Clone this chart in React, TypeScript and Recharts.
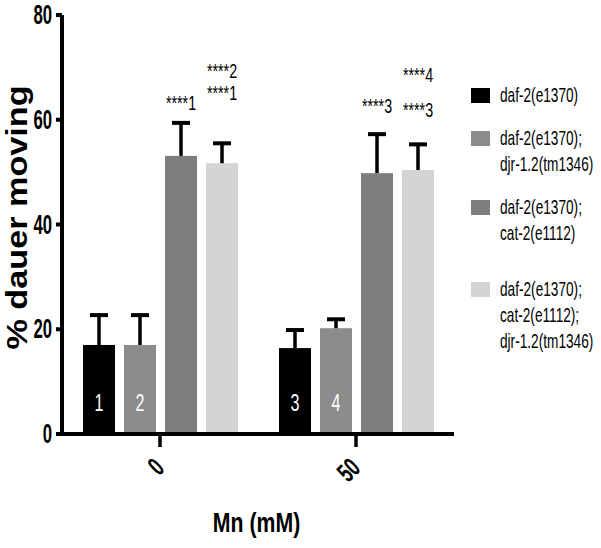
import React from "react";
import { BarChart, Bar, XAxis, YAxis, Legend } from "recharts";

// ---------- data ----------
const categories = ["0", "50"];
const seriesNames = [
  "daf-2(e1370)",
  "daf-2(e1370);\ndjr-1.2(tm1346)",
  "daf-2(e1370);\ncat-2(e1112)",
  "daf-2(e1370);\ncat-2(e1112);\ndjr-1.2(tm1346)",
];
const series0 = [17.0, 16.4];
const series1 = [17.0, 20.2];
const series2 = [53.1, 49.8];
const series3 = [51.7, 50.4];
const error0 = [5.7, 3.45];
const error1 = [5.7, 1.7];
const error2 = [6.3, 7.45];
const error3 = [3.8, 4.9];
const yTicks = [0, 20, 40, 60, 80];
const barNumbers = [["1", "3"], ["2", "4"], [], []];
// significance annotations: category index, series index, text, level (% units)
const annCategory = [0, 0, 0, 1, 1, 1];
const annSeries = [2, 3, 3, 2, 3, 3];
const annText = ["****1", "****2", "****1", "****3", "****4", "****3"];
const annLevel = [61.9, 68.0, 63.8, 61.3, 67.2, 60.5];

// ---------- styles ----------
const colors = ["#000000", "#8c8c8c", "#7d7d7d", "#d4d4d4"];
const legendGaps = [17, 17, 30, 0];
const FONT = "'Liberation Sans', Arial, Helvetica, sans-serif";

const allValues = [series0, series1, series2, series3];
const allErrors = [error0, error1, error2, error3];
const data = categories.map((c, i) => {
  const row: any = { dose: c };
  allValues.forEach((s, k) => {
    row[`v${k}`] = s[i];
    row[`err${k}`] = allErrors[k][i];
  });
  return row;
});

function makeShape(s: number) {
  return (props: any) => {
    const { x, y, width, height, payload } = props;
    let index = props.index;
    if (typeof index !== "number") index = categories.indexOf(payload.dose);
    const val = payload[`v${s}`];
    const err = payload[`err${s}`];
    const k = height / val;
    const cx = x + width / 2;
    const base = y + height;
    const top = y - err * k;
    const num = barNumbers[s][index];
    const anns = annText
      .map((t, j) => ({ t, j }))
      .filter((a) => annSeries[a.j] === s && annCategory[a.j] === index);
    return (
      <g>
        <rect x={x} y={y} width={width} height={height} fill={colors[s]} />
        <line x1={cx} x2={cx} y1={y} y2={top} stroke="#000" strokeWidth={3.5} />
        <line x1={cx - 9} x2={cx + 9} y1={top} y2={top} stroke="#000" strokeWidth={4} />
        {num ? (
          <text
            transform={`translate(${cx},${base - 31}) scale(0.7,1)`}
            textAnchor="middle"
            dominantBaseline="central"
            fill="#fff"
            fontSize={23}
            fontFamily={FONT}
          >
            {num}
          </text>
        ) : null}
        {anns.map((a) => (
          <text
            key={a.j}
            transform={`translate(${cx},${base - annLevel[a.j] * k}) scale(0.68,1)`}
            textAnchor="middle"
            fontSize={21}
            fontFamily={FONT}
            fill="#000"
          >
            {a.t}
          </text>
        ))}
      </g>
    );
  };
}

const YTick = (props: any) => {
  const { x, y, payload } = props;
  return (
    <text
      transform={`translate(${x},${y}) scale(0.62,1)`}
      textAnchor="end"
      dominantBaseline="central"
      fontSize={27}
      fontWeight="bold"
      fontFamily={FONT}
      fill="#000"
    >
      {payload.value}
    </text>
  );
};

const XTick = (props: any) => {
  const { x, y, payload } = props;
  return (
    <text
      transform={`translate(${x - 1},${y + 14}) rotate(-45) scale(0.64,1)`}
      textAnchor="end"
      dominantBaseline="central"
      fontSize={27}
      fontWeight="bold"
      fontFamily={FONT}
      fill="#000"
    >
      {payload.value}
    </text>
  );
};

const XLabel = (props: any) => {
  const vb = props.viewBox || { x: 62, y: 434, width: 392, height: 100 };
  return (
    <text
      transform={`translate(${vb.x + vb.width / 2 - 1.5},${vb.y + 98}) scale(0.76,1)`}
      textAnchor="middle"
      fontSize={28}
      fontWeight="bold"
      fontFamily={FONT}
      fill="#000"
    >
      Mn (mM)
    </text>
  );
};

const YLabel = (props: any) => {
  const vb = props.viewBox || { x: 0, y: 15, width: 62, height: 419 };
  return (
    <text
      transform={`translate(27,${vb.y + vb.height / 2 - 7}) rotate(-90) scale(1.18,1)`}
      textAnchor="middle"
      fontSize={29}
      fontWeight="bold"
      fontFamily={FONT}
      fill="#000"
    >
      % dauer moving
    </text>
  );
};

const LegendContent = (props: any) => {
  const payload = [...(props.payload || [])].sort(
    (a: any, b: any) => seriesNames.indexOf(a.value) - seriesNames.indexOf(b.value)
  );
  return (
    <div style={{ fontFamily: FONT }}>
      {payload.map((p: any, i: number) => (
        <div
          key={i}
          style={{ display: "flex", alignItems: "flex-start", marginBottom: legendGaps[i] }}
        >
          <div
            style={{
              width: 19,
              height: 15,
              background: p.color || colors[i],
              marginTop: 5.5,
              marginRight: 10,
              flex: "none",
            }}
          />
          <div
            style={{
              fontSize: 21,
              lineHeight: "26px",
              whiteSpace: "pre",
              transform: "scaleX(0.65)",
              transformOrigin: "left top",
              color: "#000",
            }}
          >
            {p.value}
          </div>
        </div>
      ))}
    </div>
  );
};

export default function App() {
  return (
    <div style={{ position: "absolute", left: 0, top: 0, background: "#fff" }}>
      <BarChart
        width={601}
        height={548}
        data={data}
        margin={{ top: 15, right: 147, bottom: 14, left: 0 }}
        barGap={9}
        barSize={32}
      >
        <XAxis
          dataKey="dose"
          height={100}
          stroke="#000"
          axisLine={{ stroke: "#000", strokeWidth: 4 }}
          tickLine={{ stroke: "#000", strokeWidth: 3.5 }}
          tickSize={13}
          interval={0}
          tick={(p: any) => <XTick {...p} />}
          label={(p: any) => <XLabel {...p} />}
        />
        <YAxis
          width={62}
          domain={[0, 80]}
          ticks={yTicks}
          interval={0}
          stroke="#000"
          axisLine={{ stroke: "#000", strokeWidth: 4 }}
          tickLine={{ stroke: "#000", strokeWidth: 4 }}
          tickSize={6}
          tickMargin={4}
          tick={(p: any) => <YTick {...p} />}
          label={(p: any) => <YLabel {...p} />}
        />
        <Legend
          layout="horizontal"
          verticalAlign="middle"
          align="center"
          itemSorter="dataKey"
          content={(p: any) => <LegendContent {...p} />}
          wrapperStyle={{ left: 471, top: 82, width: 130, height: "auto" }}
        />
        {allValues.map((_, s) => (
          <Bar
            key={s}
            dataKey={`v${s}`}
            name={seriesNames[s]}
            fill={colors[s]}
            isAnimationActive={false}
            shape={makeShape(s)}
          />
        ))}
      </BarChart>
    </div>
  );
}
